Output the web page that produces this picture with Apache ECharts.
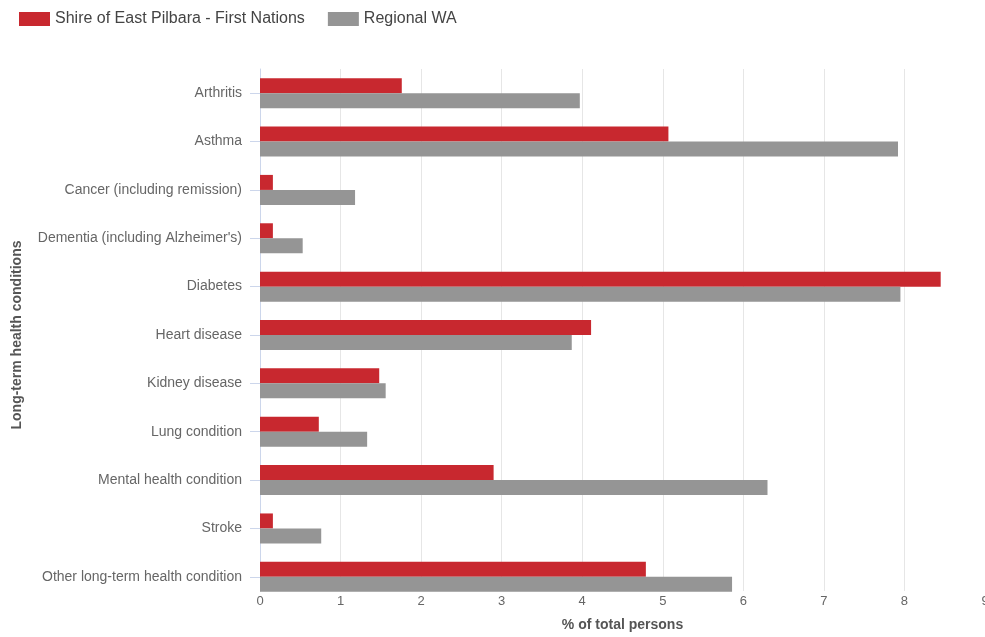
<!DOCTYPE html>
<html>
<head>
<meta charset="utf-8">
<script src="https://cdn.jsdelivr.net/npm/echarts@6/dist/echarts.min.js"></script>
<style>
  html, body { margin: 0; padding: 0; background: #fff; }
  #chart { width: 985px; height: 637px; }
</style>
</head>
<body>
<div id="chart"></div>
<script>
// Long-term health conditions, % of total persons
const categories = [
  'Arthritis',
  'Asthma',
  'Cancer (including remission)',
  "Dementia (including Alzheimer's)",
  'Diabetes',
  'Heart disease',
  'Kidney disease',
  'Lung condition',
  'Mental health condition',
  'Stroke',
  'Other long-term health condition'
];
const eastPilbaraFirstNations = [1.76, 5.07, 0.16, 0.16, 8.45, 4.11, 1.48, 0.73, 2.90, 0.16, 4.79];
const regionalWA = [3.97, 7.92, 1.18, 0.53, 7.95, 3.87, 1.56, 1.33, 6.30, 0.76, 5.86];
const xTicks = [0, 1, 2, 3, 4, 5, 6, 7, 8, 9];

const chart = echarts.init(document.getElementById('chart'), null, { renderer: 'canvas' });
const font = '"Liberation Sans", Arial, sans-serif';
const xMin = xTicks[0];
const xMax = xTicks[xTicks.length - 1];

chart.setOption({
  animation: false,
  textStyle: { fontFamily: font },
  legend: {
    left: 14,
    top: 6,
    itemWidth: 31,
    itemHeight: 14,
    itemGap: 23,
    icon: 'rect',
    textStyle: { fontSize: 16, color: '#444', fontFamily: font },
    data: ['Shire of East Pilbara - First Nations', 'Regional WA']
  },
  grid: [
    // bars and category labels: category bands run slightly past the value gridlines
    { left: 260, right: 0, top: 69, bottom: 36, containLabel: false, outerBoundsMode: 'none' },
    // value gridlines, tick labels and left axis line
    { left: 260, right: 0, top: 69, bottom: 46, containLabel: false, outerBoundsMode: 'none' }
  ],
  xAxis: [
    {
      gridIndex: 0,
      type: 'value',
      min: xMin,
      max: xMax,
      interval: 1,
      show: false
    },
    {
      gridIndex: 1,
      type: 'value',
      min: xMin,
      max: xMax,
      interval: 1,
      name: '% of total persons',
      nameLocation: 'middle',
      nameGap: 27,
      nameTextStyle: { fontSize: 14, fontWeight: 'bold', color: '#555', fontFamily: font },
      axisLine: { show: false },
      axisTick: { show: false },
      axisLabel: { fontSize: 13, color: '#666', margin: 4, fontFamily: font, hideOverlap: false },
      splitLine: { show: true, lineStyle: { color: '#e6e6e6', width: 1 } },
      z: 0
    }
  ],
  yAxis: [
    {
      gridIndex: 0,
      type: 'category',
      inverse: true,
      data: categories,
      name: 'Long-term health conditions',
      nameLocation: 'middle',
      nameGap: 236,
      nameTextStyle: { fontSize: 14, fontWeight: 'bold', color: '#555', fontFamily: font },
      axisLine: { show: false },
      axisTick: { show: true, alignWithLabel: true, length: 10, lineStyle: { color: '#ccd6eb' } },
      axisLabel: { fontSize: 14, color: '#666', margin: 18, fontFamily: font },
      splitLine: { show: false }
    },
    {
      gridIndex: 1,
      type: 'category',
      inverse: true,
      data: categories,
      axisLine: { show: true, lineStyle: { color: '#ccd6eb', width: 1 } },
      axisTick: { show: false },
      axisLabel: { show: false },
      splitLine: { show: false }
    }
  ],
  series: [
    {
      name: 'Shire of East Pilbara - First Nations',
      type: 'bar',
      xAxisIndex: 0,
      yAxisIndex: 0,
      data: eastPilbaraFirstNations,
      barWidth: 15,
      barGap: '0%',
      itemStyle: { color: '#c8282f' },
      z: 3
    },
    {
      name: 'Regional WA',
      type: 'bar',
      xAxisIndex: 0,
      yAxisIndex: 0,
      data: regionalWA,
      barWidth: 15,
      barGap: '0%',
      itemStyle: { color: '#959595' },
      z: 3
    }
  ]
});
</script>
</body>
</html>
